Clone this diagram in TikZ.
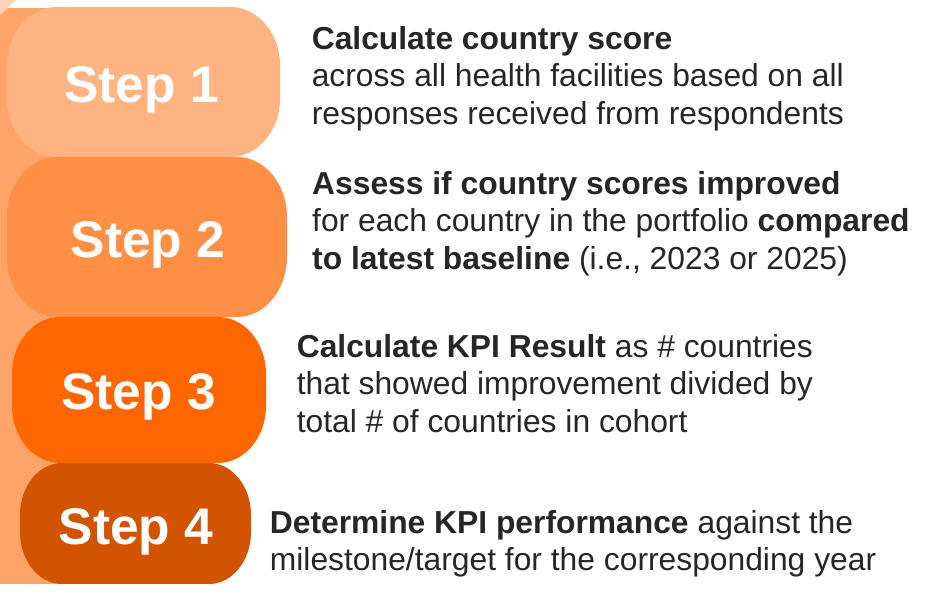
\documentclass[tikz,border=0pt]{standalone}
\usepackage{fontspec}
\setmainfont{Liberation Sans}
\definecolor{boxA}{HTML}{FFB381}
\definecolor{boxB}{HTML}{FF8F45}
\definecolor{boxC}{HTML}{FF6600}
\definecolor{boxD}{HTML}{D35400}
\definecolor{stripc}{HTML}{FFA468}
\definecolor{peach}{HTML}{FDD3B8}
\definecolor{txt}{HTML}{262626}
\newcommand{\ebox}[7]{%
  \fill[#7] (#1+#5,#2) -- (#3-#5,#2)
    arc[start angle=-90,end angle=0,x radius=#5,y radius=#6]
    -- (#3,#4-#6)
    arc[start angle=0,end angle=90,x radius=#5,y radius=#6]
    -- (#1+#5,#4)
    arc[start angle=90,end angle=180,x radius=#5,y radius=#6]
    -- (#1,#2+#6)
    arc[start angle=180,end angle=270,x radius=#5,y radius=#6]
    -- cycle;}
\tikzset{
  steplabel/.style={text=white, font=\fontsize{51.5}{60}\selectfont\bfseries, anchor=base, inner sep=0pt},
  desc/.style={text=txt, font=\fontsize{31.8}{37.5}\selectfont, align=left, anchor=north west, inner sep=0pt}
}
\begin{document}
\begin{tikzpicture}[x=1pt,y=1pt]
\useasboundingbox (0,0) rectangle (935,592);
\fill[white] (0,0) rectangle (935,592);
% background strip
\fill[stripc] (0,8) rectangle (195,584);
\fill[peach] (0,592) -- (16,592) -- (0,577) -- cycle;
% boxes
\ebox{7}{435}{280}{585}{50}{58}{boxA}
\ebox{7}{275}{287}{435}{50}{60}{boxB}
\ebox{12}{129}{266}{275}{48}{57}{boxC}
\ebox{20}{8}{251}{129}{42}{52}{boxD}
% step labels
\node[steplabel] (s1) at (141.5,489) {Step 1};
\node[steplabel] (s2) at (148,334) {Step 2};
\node[steplabel] (s3) at (138.5,182) {Step 3};
\node[steplabel] (s4) at (136,47) {Step 4};
% descriptions
\node[desc] (d1) at (311.6,569.25) {\strut\textbf{Calculate country score}\\across all health facilities based on all\\responses received from respondents};
\node[desc] (d2) at (312,424.25) {\strut\textbf{Assess if country scores improved}\\for each country in the portfolio \textbf{compared}\\\textbf{to latest baseline} (i.e., 2023 or 2025)};
\node[desc] (d3) at (296.6,261.25) {\strut\textbf{Calculate KPI Result} as \# countries\\that showed improvement divided by\\total \# of countries in cohort};
\node[desc] (d4) at (269.7,85.25) {\strut\textbf{Determine KPI performance} against the\\milestone/target for the corresponding year};
\end{tikzpicture}
\end{document}
